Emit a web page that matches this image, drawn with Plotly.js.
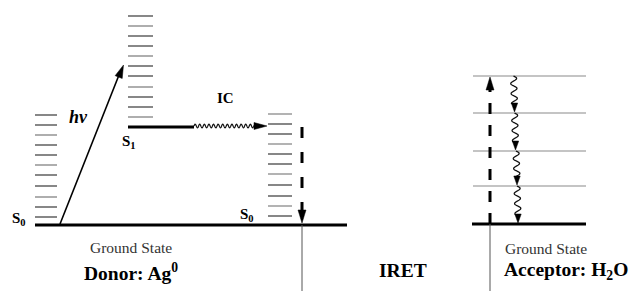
<!DOCTYPE html>
<html>
<head>
<meta charset="utf-8">
<script src="https://cdn.plot.ly/plotly-3.0.1.min.js"></script>
<style>
html,body{margin:0;padding:0;background:#fff;}
#chart{width:632px;height:291px;}
#chart .annotation-text, #chart .annotation-text tspan{font-family:"Liberation Serif" !important;}
</style>
</head>
<body>
<div id="chart"></div>
<script>
// ---- data: energy levels (diagram units, ground state = 0) ----
const donorS0Levels = [110, 100, 90, 80, 70, 60, 50, 39, 28, 18, 8];
const donorS1Levels = [209, 199, 189, 179, 169, 159, 149, 138, 128, 118, 108];
const donorS1Energy = 98;
const relaxedS0Levels = [111, 101, 91, 81, 71, 61, 51, 40, 29, 19, 9];
const acceptorLevels = [149, 112, 74, 39];
const groundEnergy = 0;
const acceptorGround = 1;

const labels = {
  donorGround: 'Ground State',
  donor: 'Donor: Ag<sup>0</sup>',
  iret: 'IRET',
  acceptorGround: 'Ground State',
  acceptor: 'Acceptor: H<sub>2</sub>O',
  hv: '<b><i>hv</i></b>',
  ic: '<b>IC</b>',
  s1: '<b>S<sub>1</sub></b>',
  s0: '<b>S<sub>0</sub></b>'
};

// ---- helpers ----
const f = v => (Math.abs(v) < 1e-6 ? 0 : v).toFixed(2);
const shapes = [];
function hline(x0, x1, y, color, width) {
  shapes.push({type: 'line', xref: 'x', yref: 'y', x0: x0, x1: x1, y0: y, y1: y,
    line: {color: color, width: width}});
}
function seg(x0, y0, x1, y1, color, width, dash) {
  shapes.push({type: 'line', xref: 'x', yref: 'y', x0: x0, x1: x1, y0: y0, y1: y1,
    line: {color: color, width: width, dash: dash || 'solid'}});
}
function head(tx, ty, fx, fy, len, hw, color) {
  const dx = tx - fx, dy = ty - fy, d = Math.hypot(dx, dy);
  const ux = dx / d, uy = dy / d;
  const bx = tx - ux * len, by = ty - uy * len;
  const px = -uy * hw, py = ux * hw;
  shapes.push({type: 'path', xref: 'x', yref: 'y',
    path: 'M ' + f(tx) + ' ' + f(ty) + ' L ' + f(bx + px) + ' ' + f(by + py) +
          ' L ' + f(bx - px) + ' ' + f(by - py) + ' Z',
    fillcolor: color, line: {color: color, width: 0.5}});
}
function wave(x0, y0, x1, y1, amp, period, color, width) {
  const dx = x1 - x0, dy = y1 - y0, d = Math.hypot(dx, dy);
  const ux = dx / d, uy = dy / d, nx = -uy, ny = ux;
  const n = Math.max(8, Math.round(d * 3));
  let p = 'M ' + f(x0) + ' ' + f(y0);
  for (let i = 1; i <= n; i++) {
    const t = d * i / n;
    const o = amp * Math.sin(2 * Math.PI * t / period);
    p += ' L ' + f(x0 + ux * t + nx * o) + ' ' + f(y0 + uy * t + ny * o);
  }
  shapes.push({type: 'path', xref: 'x', yref: 'y', path: p,
    line: {color: color, width: width}});
}

// ---- donor vibrational stacks ----
donorS0Levels.forEach((e, i) => hline(35, 57, e, i % 3 === 2 ? '#9a9a9a' : '#6a6a6a', 1.6));
donorS1Levels.forEach((e, i) => hline(128, 153, e, i % 3 === 1 ? '#9a9a9a' : '#6a6a6a', 1.6));
relaxedS0Levels.forEach((e, i) => hline(268, 292, e, i % 3 === 0 ? '#a0a0a0' : '#6a6a6a', 1.6));

// ground states
hline(35, 347, groundEnergy, '#000', 3);
hline(472, 586, acceptorGround, '#000', 3);
// S1 thick level + IC
hline(128, 194, donorS1Energy, '#000', 3);
wave(194, donorS1Energy + 1, 254, donorS1Energy + 1, 1.8, 4.6, '#111', 1.2);
head(267, donorS1Energy + 1, 250, donorS1Energy + 1, 13, 3.5, '#000');

// hv excitation arrow
seg(60, groundEnergy + 1, 119, 150, '#000', 1.6);
head(123.5, 160, 60, groundEnergy + 1, 13, 3.8, '#000');

// donor dashed relaxation
seg(302, donorS1Energy, 302, 15, '#000', 3, '11px,14px');
head(302, groundEnergy + 2, 302, 40, 13, 4, '#000');

// thin vertical connectors
seg(302, groundEnergy, 302, -70, '#555', 1);
seg(490, acceptorGround, 490, -70, '#555', 1);

// acceptor levels
acceptorLevels.forEach(e => hline(473, 586, e, '#8a8a8a', 1.1));

// acceptor dashed excitation
seg(490, acceptorGround, 490, 135, '#000', 3, '11px,11px');
head(490, 148, 490, 100, 13, 4, '#000');

// acceptor wavy relaxations
const wx = [513.5, 514.5, 516, 517];
const tops = [acceptorLevels[0], acceptorLevels[1], acceptorLevels[2], acceptorLevels[3]];
const bots = [acceptorLevels[1], acceptorLevels[2], acceptorLevels[3], acceptorGround];
tops.forEach((t, i) => {
  const b = bots[i];
  wave(wx[i], t, wx[i] + 1, b + 9, 3, 10, '#111', 1.3);
  head(wx[i] + 1, b + 1, wx[i] + 1, b + 20, 9, 3.2, '#000');
});

// ---- annotations ----
const serif = 'Liberation Serif';
function txt(text, x, y, size, color, bold) {
  return {text: bold ? '<b>' + text + '</b>' : text, x: x, y: y, xref: 'x', yref: 'y',
    showarrow: false, xanchor: 'center', yanchor: 'middle',
    font: {family: serif, size: size, color: color}};
}
const annotations = [
  txt(labels.donorGround, 131, -22, 15.5, '#333', false),
  txt(labels.donor, 131, -47, 19.5, '#000', true),
  txt(labels.iret, 403, -45, 19.5, '#000', true),
  txt(labels.acceptorGround, 545.5, -23, 15.5, '#333', false),
  txt(labels.acceptor, 566, -46, 19.5, '#000', true),
  txt(labels.hv, 78, 108, 18, '#000', false),
  txt(labels.ic, 225, 127, 15, '#000', false),
  txt(labels.s1, 129, 83, 15, '#000', false),
  txt(labels.s0, 19, 6, 15, '#000', false),
  txt(labels.s0, 247, 10, 15, '#000', false)
];

const layout = {
  width: 632, height: 291,
  margin: {l: 0, r: 0, t: 0, b: 0},
  paper_bgcolor: '#fff', plot_bgcolor: '#fff',
  showlegend: false,
  font: {family: serif},
  xaxis: {range: [0, 632], visible: false, fixedrange: true},
  yaxis: {range: [-66, 225], visible: false, fixedrange: true},
  shapes: shapes,
  annotations: annotations
};
Plotly.newPlot('chart', [{x: [], y: [], type: 'scatter', mode: 'markers', hoverinfo: 'skip'}], layout,
  {displayModeBar: false});
</script>
</body>
</html>
